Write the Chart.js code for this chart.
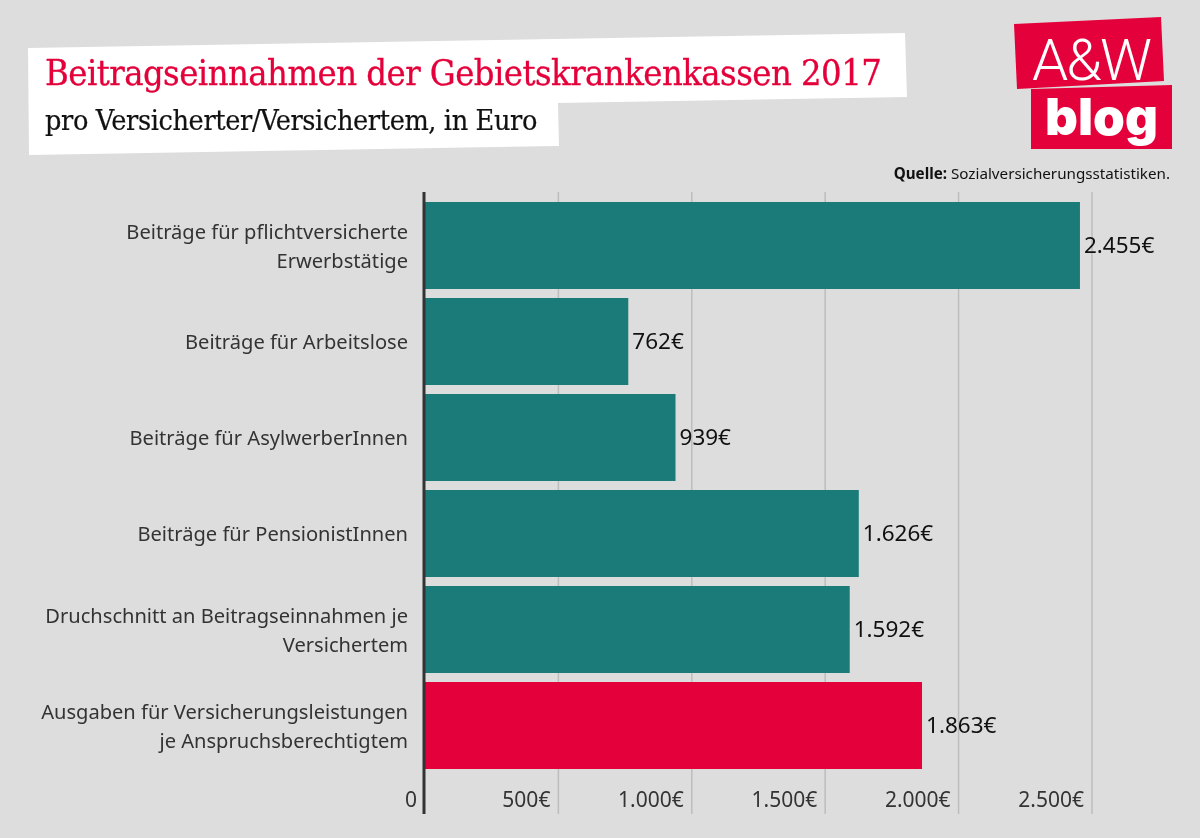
<!DOCTYPE html>
<html lang="de">
<head>
<meta charset="utf-8">
<title>Beitragseinnahmen der Gebietskrankenkassen 2017</title>
<script src="https://cdn.jsdelivr.net/npm/chart.js@4"></script>
<style>
  html, body { margin: 0; padding: 0; background: #dddddd; }
  #page { position: relative; width: 1200px; height: 838px; overflow: hidden; background: #dddddd; }
  #page > * { position: absolute; }
  canvas { left: 0; top: 0; }
  .text { white-space: nowrap; line-height: 1; }
  #box1 { left: 0; top: 0; width: 1200px; height: 200px; background: #fff;
    clip-path: polygon(28px 48px, 905px 33px, 907px 97px, 558px 103px, 559px 146px, 29px 155px); }
  #title { left: 45px; top: 52px; font: 36px "DejaVu Serif Condensed", "DejaVu Serif", serif; color: #e4003a; letter-spacing: -0.53px; -webkit-text-stroke: 0.3px #e4003a; }
  #subtitle { left: 45px; top: 104px; font: 28.5px "DejaVu Serif Condensed", "DejaVu Serif", serif; color: #111; letter-spacing: -0.38px; -webkit-text-stroke: 0.2px #111; }
  #logo1 { left: 0; top: 0; width: 1200px; height: 200px; background: #e4003a;
    clip-path: polygon(1014px 24px, 1161px 17px, 1164px 81px, 1017px 89px); }
  #logo2 { left: 0; top: 0; width: 1200px; height: 200px; background: #e4003a;
    clip-path: polygon(1031px 89px, 1172px 85px, 1172px 149px, 1031px 149px); }
  #logoTop { left: 1032px; top: 26px; font: 300 58px Roboto, sans-serif; color: #fff; letter-spacing: -2px; }
  #logoBottom { left: 1045px; top: 86px; font: 900 51px Inter, sans-serif; color: #fff; letter-spacing: 0; }
  #source { right: 30px; top: 163px; font: 15.2px "Noto Sans", sans-serif; color: #111; }
</style>
</head>
<body>
<div id="page">
  <canvas id="chart" width="1200" height="838"></canvas>
  <div id="box1"></div>
  <div id="title" class="text">Beitragseinnahmen der Gebietskrankenkassen 2017</div>
  <div id="subtitle" class="text">pro Versicherter/Versichertem, in Euro</div>
  <div id="logo1"></div>
  <div id="logo2"></div>
  <div id="logoTop" class="text">A&amp;W</div>
  <div id="logoBottom" class="text">blog</div>
  <div id="source" class="text"><b>Quelle:</b> Sozialversicherungsstatistiken.</div>
</div>
<script>
const categories = [
  ['Beiträge für pflichtversicherte', 'Erwerbstätige'],
  'Beiträge für Arbeitslose',
  'Beiträge für AsylwerberInnen',
  'Beiträge für PensionistInnen',
  ['Druchschnitt an Beitragseinnahmen je', 'Versichertem'],
  ['Ausgaben für Versicherungsleistungen', 'je Anspruchsberechtigtem']
];
const values = [2455, 762, 939, 1626, 1592, 1863];
const valueLabels = ['2.455€', '762€', '939€', '1.626€', '1.592€', '1.863€'];
const tickValues = [0, 500, 1000, 1500, 2000, 2500];
const tickLabels = ['0', '500€', '1.000€', '1.500€', '2.000€', '2.500€'];
const barColors = ['#1b7b78', '#1b7b78', '#1b7b78', '#1b7b78', '#1b7b78', '#e4003a'];

const labelFont = '"Noto Sans", sans-serif';

// grid and axis line run past the plot area, so they are drawn here
const gridPlugin = {
  id: 'gridLines',
  beforeDatasetsDraw(chart) {
    const ctx = chart.ctx;
    const x = chart.scales.x;
    ctx.save();
    ctx.strokeStyle = '#bdbdbd';
    ctx.lineWidth = 1.5;
    tickValues.slice(1).forEach(v => {
      ctx.beginPath();
      ctx.moveTo(x.getPixelForValue(v), 192);
      ctx.lineTo(x.getPixelForValue(v), 814);
      ctx.stroke();
    });
    ctx.restore();
  },
  afterDatasetsDraw(chart) {
    const ctx = chart.ctx;
    const x = chart.scales.x;
    ctx.save();
    ctx.strokeStyle = '#333333';
    ctx.lineWidth = 3;
    ctx.beginPath();
    ctx.moveTo(x.getPixelForValue(0) - 1, 192);
    ctx.lineTo(x.getPixelForValue(0) - 1, 814);
    ctx.stroke();

    // value labels next to the bars
    ctx.fillStyle = '#111111';
    ctx.font = '22.5px ' + labelFont;
    ctx.textBaseline = 'middle';
    ctx.textAlign = 'left';
    chart.getDatasetMeta(0).data.forEach((bar, i) => {
      ctx.fillText(valueLabels[i], bar.x + 4, bar.y + 1);
    });
    ctx.restore();
  }
};

new Chart(document.getElementById('chart'), {
  type: 'bar',
  data: {
    labels: categories,
    datasets: [{
      data: values,
      backgroundColor: barColors,
      barPercentage: 0.905,
      categoryPercentage: 1
    }]
  },
  options: {
    indexAxis: 'y',
    responsive: false,
    animation: false,
    layout: { padding: { top: 197.5, right: 28, left: 0, bottom: 0 } },
    plugins: { legend: { display: false }, tooltip: { enabled: false } },
    scales: {
      x: {
        min: 0,
        max: 2800,
        afterBuildTicks: scale => { scale.ticks = tickValues.map(value => ({ value })); },
        afterFit: scale => { scale.height = 64.5; },
        border: { display: false },
        grid: { display: false },
        ticks: {
          autoSkip: false,
          maxRotation: 0,
          align: 'end',
          labelOffset: -8,
          padding: 7,
          color: '#333333',
          font: { family: labelFont, size: 21 },
          callback: v => tickLabels[tickValues.indexOf(v)]
        }
      },
      y: {
        afterFit: scale => { scale.width = 425; },
        border: { display: false },
        grid: { display: false },
        ticks: {
          padding: 9,
          labelOffset: 2,
          color: '#333333',
          font: { family: labelFont, size: 20.1, lineHeight: 1.45 }
        }
      }
    }
  },
  plugins: [gridPlugin]
});
</script>
</body>
</html>
